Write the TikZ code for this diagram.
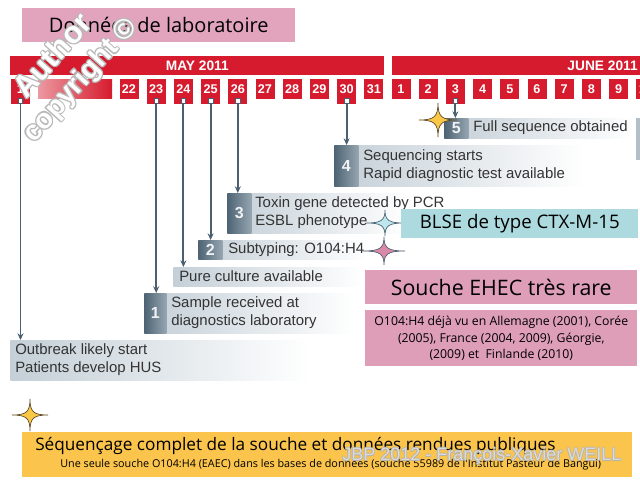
\documentclass[tikz,border=0pt]{standalone}
\usepackage{fontspec}
\setmainfont{Liberation Sans}
\newfontfamily\comic{Open Sans}
\usetikzlibrary{arrows.meta,positioning,calc}

\definecolor{mayred}{RGB}{213,27,45}
\definecolor{slate}{RGB}{74,96,112}
\definecolor{tabdark}{RGB}{78,100,116}
\definecolor{tablight}{RGB}{150,165,176}
\definecolor{evgray}{RGB}{196,207,215}
\definecolor{titlepink}{RGB}{226,164,189}
\definecolor{notepink}{RGB}{222,158,184}
\definecolor{blsecyan}{RGB}{172,218,222}
\definecolor{goldfill}{RGB}{251,196,76}
\definecolor{goldstar}{RGB}{250,200,70}
\definecolor{starbrown}{RGB}{90,70,40}
\definecolor{cyanstar}{RGB}{190,232,238}
\definecolor{pinkstar}{RGB}{218,138,168}

\newcommand\pxu{0.75pt}

\tikzset{
  daybox/.style={fill=mayred, text=white, font=\bfseries\fontsize{9.5}{10}\selectfont,
    minimum width=19*\pxu, text height=7pt, text depth=0pt, inner ysep=4pt,
    inner xsep=0pt, anchor=north},
  evday/.style={daybox, text depth=3.75pt},
  pinsq/.style={draw=slate, fill=white, minimum size=4.5*\pxu, inner sep=0pt, line width=0.5pt},
  monthbar/.style={anchor=north west, fill=mayred, minimum height=19*\pxu, inner sep=0pt,
    text=white, font=\bfseries\fontsize{10.3}{10.3}\selectfont},
  conn/.style={slate, line width=1.4pt, -{Stealth[length=5pt,width=4.5pt]}},
  evbox/.style={anchor=north west, left color=evgray, right color=white, inner sep=0pt},
  numtab/.style={anchor=north west, left color=tabdark, right color=tablight,
    text=white!92!slate, font=\bfseries\fontsize{12}{12}\selectfont,
    inner sep=0pt, minimum width=24*\pxu},
  evtext/.style={anchor=west, align=left, font=\fontsize{11.2}{13.5}\selectfont,
    text=black!80, inner sep=0pt},
  notebox/.style={anchor=north west, inner sep=0pt, align=center, font=\comic},
  wmark/.style={font=\bfseries\fontsize{21}{21}\selectfont, rotate=48, inner sep=0pt},
  jbpmark/.style={anchor=west, inner sep=0pt, font=\fontsize{13.5}{13.5}\selectfont},
  sparkle/.pic={
    \filldraw[pic actions] (-1,0) .. controls (-0.2,0) and (0,-0.2) .. (0,-1)
      .. controls (0,-0.2) and (0.2,0) .. (1,0)
      .. controls (0.2,0) and (0,0.2) .. (0,1)
      .. controls (0,0.2) and (-0.2,0) .. (-1,0) -- cycle;
  },
}

\begin{document}
\begin{tikzpicture}[x=\pxu, y=-\pxu]
  \useasboundingbox (0,0) rectangle (640,480);

  % title
  \node[notebox, fill=titlepink, minimum width=273*\pxu, minimum height=34*\pxu,
    font=\comic\fontsize{15}{15}\selectfont] (title) at (22,8) {Données de laboratoire};

  % months
  \node[monthbar, minimum width=374*\pxu] (may) at (10,56) {MAY 2011};
  \node[monthbar, minimum width=260*\pxu] (june) at (392,56) {};
  \node[anchor=east, inner sep=0pt, text=white,
    font=\bfseries\fontsize{10.3}{10.3}\selectfont] (junelbl) at (638,65.5) {JUNE 2011};

  % days
  \node[evday] (m1) at (20.5,79) {1};
  \shade[left color=mayred!45, middle color=white, right color=mayred]
    (38,79) rectangle (112,98);
  \foreach \d/\s [count=\i from 0] in {22/daybox,23/evday,24/evday,25/evday,26/evday,
      27/daybox,28/daybox,29/daybox,30/evday,31/daybox}
    \node[\s] (m\d) at (129+27.2*\i,79) {\d};
  \foreach \d/\s [count=\i from 0] in {1/daybox,2/daybox,3/evday,4/daybox,5/daybox,
      6/daybox,7/daybox,8/daybox,9/daybox,10/daybox}
    \node[\s] (j\d) at (401+27.2*\i,79) {\d};
  \foreach \p in {m1,m23,m24,m25,m26,m30,j3}
    \node[pinsq] (pin\p) at ([yshift=2.8pt]\p.south) {};

  % events
  \fill[evgray!85!slate] (636,118) rectangle (642,160);
  \node[evbox, minimum width=190*\pxu, minimum height=20*\pxu] (b5) at (444,118) {};
  \node[numtab, minimum height=20*\pxu] (n5) at (444,118) {5};
  \node[evtext] (t5) at (473,128) {Full sequence obtained};

  \node[evbox, minimum width=250*\pxu, minimum height=41*\pxu] (b4) at (334,145) {};
  \node[numtab, minimum height=41*\pxu] (n4) at (334,145) {4};
  \node[evtext] (t4) at (363,165.5) {Sequencing starts\\Rapid diagnostic test available};

  \node[evbox, minimum width=180*\pxu, minimum height=40*\pxu] (b3) at (227,193) {};
  \node[numtab, minimum height=40*\pxu] (n3) at (227,193) {3};
  \node[evtext] (t3) at (255,213) {Toxin gene detected by PCR\\ESBL phenotype};

  \node[evbox, minimum width=170*\pxu, minimum height=19*\pxu] (b2) at (198,240) {};
  \node[numtab, minimum height=19*\pxu] (n2) at (198,240) {2};
  \node[evtext] (t2) at (228,249.5) {Subtyping: O104:H4};

  \node[evbox, minimum width=190*\pxu, minimum height=19*\pxu] (bp) at (173,267) {};
  \node[evtext] (tp) at (179,276.5) {Pure culture available};

  \node[evbox, minimum width=210*\pxu, minimum height=40*\pxu] (b1) at (144,293) {};
  \node[numtab, minimum height=40*\pxu, minimum width=22*\pxu] (n1) at (144,293) {1};
  \node[evtext] (t1) at (171,313) {Sample received at\\diagnostics laboratory};

  \node[evbox, minimum width=300*\pxu, minimum height=40*\pxu] (b0) at (10,340) {};
  \node[evtext] (t0) at (15,360) {Outbreak likely start\\Patients develop HUS};

  % connectors
  \draw[conn] (pinm1.south) -- (pinm1.south |- b0.north);
  \draw[conn] (pinm23.south) -- (pinm23.south |- b1.north);
  \draw[conn] (pinm24.south) -- (pinm24.south |- bp.north);
  \draw[conn] (pinm25.south) -- (pinm25.south |- b2.north);
  \draw[conn] (pinm26.south) -- (pinm26.south |- b3.north);
  \draw[conn] (pinm30.south) -- (pinm30.south |- b4.north);
  \draw[conn] (pinj3.south) -- (pinj3.south |- b5.north);

  % notes
  \pic[fill=goldstar, draw=starbrown, line width=0.5pt, xscale=19, yscale=17] at (438,120) {sparkle};
  \pic[fill=cyanstar, draw=slate, line width=0.5pt, xscale=19, yscale=13] at (385,223) {sparkle};
  \pic[fill=pinkstar, draw=slate, line width=0.5pt, xscale=21, yscale=14] at (384,251) {sparkle};
  \node[notebox, fill=blsecyan, minimum width=237*\pxu, minimum height=29*\pxu,
    font=\comic\fontsize{14}{14}\selectfont] (blse) at (401,209) {BLSE de type CTX-M-15};
  \node[notebox, fill=notepink, minimum width=272*\pxu, minimum height=34*\pxu,
    font=\comic\fontsize{16}{16}\selectfont] (rare) at (365,270) {Souche EHEC très rare};
  \node[notebox, fill=notepink, minimum width=272*\pxu, minimum height=56*\pxu,
    font=\comic\fontsize{9.2}{12.6}\selectfont] (seen) at (365,310)
    {O104:H4 déjà vu en Allemagne (2001), Corée\\(2005), France (2004, 2009), Géorgie,\\(2009) et \ Finlande (2010)};

  \pic[fill=goldstar, draw=starbrown, line width=0.5pt, xscale=18, yscale=16] at (30,415) {sparkle};
  \node[notebox, fill=goldfill, minimum width=610*\pxu, minimum height=45*\pxu] (gold) at (22,432) {};
  \node[anchor=west, inner sep=0pt, font=\comic\fontsize{12.9}{12.9}\selectfont] (seq1) at (35,446)
    {Séquençage complet de la souche et données rendues publiques};
  \node[anchor=west, inner sep=0pt, font=\comic\fontsize{8.1}{8.1}\selectfont] (seq2) at (60,465)
    {Une seule souche O104:H4 (EAEC) dans les bases de données (souche 55989 de l'Institut Pasteur de Bangui)};

  % watermarks
  \foreach \a in {0,45,...,315} {
    \node[wmark, text=gray!55, font=\bfseries\fontsize{23}{23}\selectfont]
      (wa\a) at ([shift={(\a:0.9pt)}]52,55) {Author};
    \node[wmark, text=gray!55] (wc\a) at ([shift={(\a:0.9pt)}]81,81) {copyright ©};
    \node[jbpmark, text=gray!60, opacity=0.6] (jbp\a) at ([shift={(\a:0.6pt)}]342,456)
      {JBP 2012 - François-Xavier WEILL};
  }
  \node[wmark, text=white, font=\bfseries\fontsize{23}{23}\selectfont] (wa) at (52,55) {Author};
  \node[wmark, text=white] (wc) at (81,81) {copyright ©};
  \node[jbpmark, text=gray!20, opacity=0.8] (jbp) at (342,456) {JBP 2012 - François-Xavier WEILL};
\end{tikzpicture}
\end{document}
